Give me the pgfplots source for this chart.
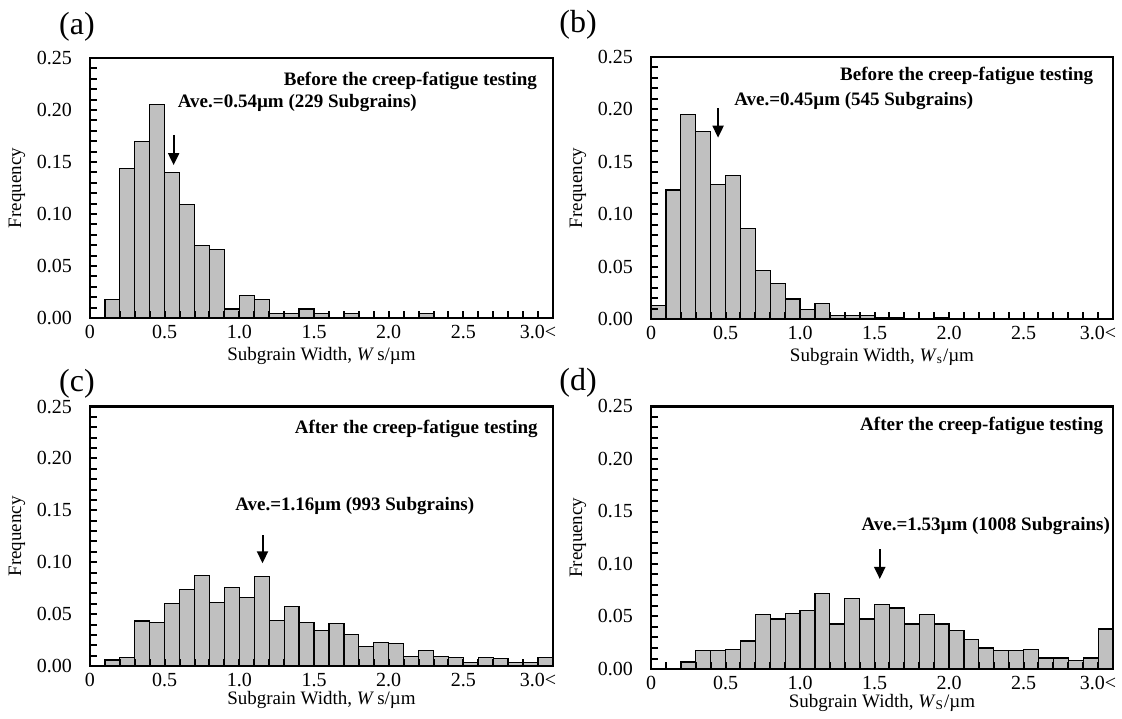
\documentclass[border=0pt]{standalone}
\usepackage{fontspec}
\setmainfont{Liberation Serif}
\usepackage{pgfplots}
\pgfplotsset{compat=1.18}
\usetikzlibrary{arrows.meta}
\definecolor{barfill}{RGB}{192,192,192}

\pgfplotsset{
  histo/.style={
    scale only axis, anchor=south west,
    xmin=0, xmax=3.1, ymin=0, ymax=0.25,
    axis on top,
    axis line style={line width=1.4pt},
    tick align=inside,
    xtick pos=left, ytick pos=left,
    xtick={0,0.5,1,1.5,2,2.5,3},
    xticklabels={0,0.5,1.0,1.5,2.0,2.5,3.0<},
    minor x tick num=4,
    ytick={0,0.05,0.1,0.15,0.2,0.25},
    minor y tick num=4,
    major tick length=3.5pt, minor tick length=3.5pt,
    tick style={black, line width=1pt},
    /pgf/number format/assume math mode=true,
    yticklabel style={/pgf/number format/fixed, /pgf/number format/fixed zerofill,
      /pgf/number format/precision=2, xshift=-5.5pt},
    tick label style={font=\fontsize{10}{12}\selectfont},
    label style={font=\fontsize{9.5}{11}\selectfont},
    ylabel={Frequency},
    ylabel style={at={(rel axis cs:-0.158,0.5)}, anchor=center},
  },
  histbar/.style={ybar, bar width=0.1, bar shift=0pt, fill=barfill, draw=black, line width=0.6pt},
}
\tikzset{
  note/.style={inner sep=0pt, font=\bfseries\fontsize{9.5}{11}\selectfont},
  mean/.style={line width=1pt, -{Triangle[length=6pt,width=5.5pt]}},
  panel/.style={font=\fontsize{16}{18}\selectfont},
}

\begin{document}
\begin{tikzpicture}
\useasboundingbox (0,0) rectangle (561pt,359pt);

% (a)
\node[panel] at (38.5pt,345.5pt) {(a)};
\begin{axis}[histo, at={(45pt,200pt)}, width=231.5pt, height=130pt,
  xlabel={Subgrain Width, \textit{W}\,s/µm},
  xlabel style={at={(rel axis cs:0.5,-0.146)}, anchor=center}]
\addplot[histbar] coordinates {
 (0.15,0.0175) (0.25,0.144) (0.35,0.170) (0.45,0.205) (0.55,0.140) (0.65,0.109)
 (0.75,0.070) (0.85,0.0655) (0.95,0.0087) (1.05,0.0218) (1.15,0.0175) (1.25,0.0044)
 (1.35,0.0044) (1.45,0.0087) (1.55,0.0044) (1.75,0.0044) (2.25,0.0044)
};
\node[note, anchor=base east] at (axis cs:2.995,0.224) {Before the creep-fatigue testing};
\node[note, anchor=base west] at (axis cs:0.586,0.202) {Ave.=0.54µm (229 Subgrains)};
\draw[mean] (axis cs:0.56,0.176) -- (axis cs:0.56,0.147);
\end{axis}

% (b)
\node[panel] at (289pt,346.5pt) {(b)};
\begin{axis}[histo, at={(325.5pt,199.5pt)}, width=231pt, height=131pt,
  xlabel={Subgrain Width, \textit{W}\textsubscript{s}/µm},
  xlabel style={at={(rel axis cs:0.5,-0.146)}, anchor=center}]
\addplot[histbar] coordinates {
 (0.05,0.013) (0.15,0.123) (0.25,0.195) (0.35,0.179) (0.45,0.128) (0.55,0.137)
 (0.65,0.086) (0.75,0.046) (0.85,0.034) (0.95,0.019) (1.05,0.009) (1.15,0.015)
 (1.25,0.0037) (1.35,0.0037) (1.45,0.0037) (1.55,0.0018) (1.65,0.0018) (1.95,0.0018)
};
\node[note, anchor=base east] at (axis cs:2.97,0.228) {Before the creep-fatigue testing};
\node[note, anchor=base west] at (axis cs:0.556,0.204) {Ave.=0.45µm (545 Subgrains)};
\draw[mean] (axis cs:0.45,0.201) -- (axis cs:0.45,0.173);
\end{axis}

% (c)
\node[panel] at (38.5pt,167pt) {(c)};
\begin{axis}[histo, at={(45pt,26pt)}, width=231.5pt, height=129.7pt,
  xlabel={Subgrain Width, \textit{W}\,s/µm},
  xlabel style={at={(rel axis cs:0.5,-0.13)}, anchor=center}]
\addplot[histbar] coordinates {
 (0.15,0.0058) (0.25,0.008) (0.35,0.0434) (0.45,0.042) (0.55,0.060) (0.65,0.074)
 (0.75,0.087) (0.85,0.061) (0.95,0.076) (1.05,0.066) (1.15,0.086) (1.25,0.044)
 (1.35,0.057) (1.45,0.042) (1.55,0.034) (1.65,0.041) (1.75,0.030) (1.85,0.019)
 (1.95,0.023) (2.05,0.022) (2.15,0.009) (2.25,0.015) (2.35,0.009) (2.45,0.008)
 (2.55,0.003) (2.65,0.008) (2.75,0.007) (2.85,0.003) (2.95,0.003) (3.05,0.008)
};
\node[note, anchor=base east] at (axis cs:3.0,0.224) {After the creep-fatigue testing};
\node[note, anchor=base west] at (axis cs:0.97,0.150) {Ave.=1.16µm (993 Subgrains)};
\draw[mean] (axis cs:1.155,0.126) -- (axis cs:1.155,0.099);
\end{axis}

% (d)
\node[panel] at (289pt,167.5pt) {(d)};
\begin{axis}[histo, at={(325.5pt,24.5pt)}, width=231pt, height=131.3pt,
  xlabel={Subgrain Width, \textit{W}\textsubscript{S}/µm},
  xlabel style={at={(rel axis cs:0.5,-0.128)}, anchor=center}]
\addplot[histbar] coordinates {
 (0.25,0.0067) (0.35,0.0175) (0.45,0.0175) (0.55,0.0187) (0.65,0.0267) (0.75,0.052)
 (0.85,0.0476) (0.95,0.053) (1.05,0.0555) (1.15,0.0717) (1.25,0.0428) (1.35,0.067)
 (1.45,0.0476) (1.55,0.0615) (1.65,0.058) (1.75,0.0428) (1.85,0.052) (1.95,0.0428)
 (2.05,0.037) (2.15,0.028) (2.25,0.020) (2.35,0.0175) (2.45,0.0175) (2.55,0.0187)
 (2.65,0.0105) (2.75,0.0105) (2.85,0.008) (2.95,0.0105) (3.05,0.038)
};
\node[note, anchor=base east] at (axis cs:3.036,0.227) {After the creep-fatigue testing};
\node[note, anchor=base west] at (axis cs:1.41,0.132) {Ave.=1.53µm (1008 Subgrains)};
\draw[mean] (axis cs:1.535,0.114) -- (axis cs:1.535,0.0857);
\end{axis}
\end{tikzpicture}
\end{document}
